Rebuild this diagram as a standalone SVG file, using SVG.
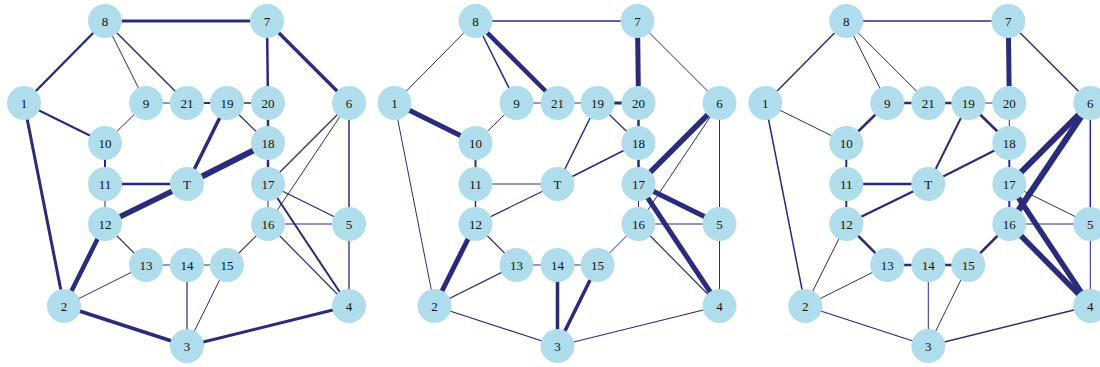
<svg xmlns="http://www.w3.org/2000/svg" width="1100" height="367" viewBox="0 0 1100 367">
<style>
.e line{stroke:#2b2b7b;stroke-linecap:butt}
.n circle{fill:#afddec}
.n text{font-family:"Liberation Serif","Times New Roman",serif;font-size:13px;fill:#111;text-anchor:middle}
</style>
<rect width="1100" height="367" fill="#fff"/>
<!-- Panel 1 -->
<g id="panel1">
<g id="p1-connectors" class="e">
<line x1="105" y1="21" x2="267" y2="21" stroke-width="2.8"/>
<line x1="105" y1="21" x2="24" y2="103" stroke-width="2.4"/>
<line x1="105" y1="21" x2="146" y2="103" stroke-width="1"/>
<line x1="105" y1="21" x2="187" y2="103" stroke-width="1.5"/>
<line x1="267" y1="21" x2="268" y2="103" stroke-width="2.5"/>
<line x1="267" y1="21" x2="349" y2="103" stroke-width="3.3"/>
<line x1="24" y1="103" x2="105" y2="143" stroke-width="2"/>
<line x1="24" y1="103" x2="64" y2="306" stroke-width="3"/>
<line x1="146" y1="103" x2="187" y2="103" stroke-width="1"/>
<line x1="146" y1="103" x2="105" y2="143" stroke-width="1"/>
<line x1="187" y1="103" x2="227" y2="103" stroke-width="2"/>
<line x1="227" y1="103" x2="268" y2="103" stroke-width="1.5"/>
<line x1="227" y1="103" x2="187" y2="184" stroke-width="3.5"/>
<line x1="227" y1="103" x2="268" y2="143" stroke-width="1.2"/>
<line x1="268" y1="103" x2="268" y2="143" stroke-width="2.5"/>
<line x1="105" y1="143" x2="105" y2="184" stroke-width="2"/>
<line x1="105" y1="184" x2="187" y2="184" stroke-width="2.5"/>
<line x1="105" y1="184" x2="105" y2="224" stroke-width="1"/>
<line x1="187" y1="184" x2="268" y2="143" stroke-width="6"/>
<line x1="187" y1="184" x2="105" y2="224" stroke-width="5.5"/>
<line x1="268" y1="143" x2="268" y2="184" stroke-width="2.5"/>
<line x1="349" y1="103" x2="268" y2="184" stroke-width="1.2"/>
<line x1="349" y1="103" x2="268" y2="224" stroke-width="1"/>
<line x1="349" y1="103" x2="349" y2="224" stroke-width="1.5"/>
<line x1="268" y1="184" x2="268" y2="224" stroke-width="1"/>
<line x1="268" y1="184" x2="349" y2="224" stroke-width="1.3"/>
<line x1="268" y1="184" x2="349" y2="306" stroke-width="2"/>
<line x1="268" y1="224" x2="349" y2="224" stroke-width="1"/>
<line x1="268" y1="224" x2="349" y2="306" stroke-width="1.2"/>
<line x1="268" y1="224" x2="227" y2="265" stroke-width="1.2"/>
<line x1="349" y1="224" x2="349" y2="306" stroke-width="1.3"/>
<line x1="105" y1="224" x2="146" y2="265" stroke-width="1.2"/>
<line x1="105" y1="224" x2="64" y2="306" stroke-width="4.5"/>
<line x1="146" y1="265" x2="187" y2="265" stroke-width="1"/>
<line x1="146" y1="265" x2="64" y2="306" stroke-width="1"/>
<line x1="187" y1="265" x2="227" y2="265" stroke-width="1.2"/>
<line x1="187" y1="265" x2="187" y2="346" stroke-width="1.2"/>
<line x1="227" y1="265" x2="187" y2="346" stroke-width="1"/>
<line x1="64" y1="306" x2="187" y2="346" stroke-width="3.5"/>
<line x1="187" y1="346" x2="349" y2="306" stroke-width="3"/>
</g>
<g id="p1-n1" class="n"><circle cx="24" cy="103" r="17"/><text x="24" y="107.5">1</text></g>
<g id="p1-n2" class="n"><circle cx="64" cy="306" r="17"/><text x="64" y="310.5">2</text></g>
<g id="p1-n3" class="n"><circle cx="187" cy="346" r="17"/><text x="187" y="350.5">3</text></g>
<g id="p1-n4" class="n"><circle cx="349" cy="306" r="17"/><text x="349" y="310.5">4</text></g>
<g id="p1-n5" class="n"><circle cx="349" cy="224" r="17"/><text x="349" y="228.5">5</text></g>
<g id="p1-n6" class="n"><circle cx="349" cy="103" r="17"/><text x="349" y="107.5">6</text></g>
<g id="p1-n7" class="n"><circle cx="267" cy="21" r="17"/><text x="267" y="25.5">7</text></g>
<g id="p1-n8" class="n"><circle cx="105" cy="21" r="17"/><text x="105" y="25.5">8</text></g>
<g id="p1-n9" class="n"><circle cx="146" cy="103" r="17"/><text x="146" y="107.5">9</text></g>
<g id="p1-n10" class="n"><circle cx="105" cy="143" r="17"/><text x="105" y="147.5">10</text></g>
<g id="p1-n11" class="n"><circle cx="105" cy="184" r="17"/><text x="105" y="188.5">11</text></g>
<g id="p1-n12" class="n"><circle cx="105" cy="224" r="17"/><text x="105" y="228.5">12</text></g>
<g id="p1-n13" class="n"><circle cx="146" cy="265" r="17"/><text x="146" y="269.5">13</text></g>
<g id="p1-n14" class="n"><circle cx="187" cy="265" r="17"/><text x="187" y="269.5">14</text></g>
<g id="p1-n15" class="n"><circle cx="227" cy="265" r="17"/><text x="227" y="269.5">15</text></g>
<g id="p1-n16" class="n"><circle cx="268" cy="224" r="17"/><text x="268" y="228.5">16</text></g>
<g id="p1-n17" class="n"><circle cx="268" cy="184" r="17"/><text x="268" y="188.5">17</text></g>
<g id="p1-n18" class="n"><circle cx="268" cy="143" r="17"/><text x="268" y="147.5">18</text></g>
<g id="p1-n19" class="n"><circle cx="227" cy="103" r="17"/><text x="227" y="107.5">19</text></g>
<g id="p1-n20" class="n"><circle cx="268" cy="103" r="17"/><text x="268" y="107.5">20</text></g>
<g id="p1-n21" class="n"><circle cx="187" cy="103" r="17"/><text x="187" y="107.5">21</text></g>
<g id="p1-nT" class="n"><circle cx="187" cy="184" r="17"/><text x="187" y="188.5">T</text></g>
</g>
<!-- Panel 2 -->
<g id="panel2" transform="translate(370.5,0)">
<g id="p2-connectors" class="e">
<line x1="105" y1="21" x2="267" y2="21" stroke-width="1.3"/>
<line x1="105" y1="21" x2="24" y2="103" stroke-width="1"/>
<line x1="105" y1="21" x2="146" y2="103" stroke-width="1.5"/>
<line x1="105" y1="21" x2="187" y2="103" stroke-width="4.5"/>
<line x1="267" y1="21" x2="268" y2="103" stroke-width="5"/>
<line x1="267" y1="21" x2="349" y2="103" stroke-width="1"/>
<line x1="24" y1="103" x2="105" y2="143" stroke-width="5"/>
<line x1="24" y1="103" x2="64" y2="306" stroke-width="1"/>
<line x1="146" y1="103" x2="187" y2="103" stroke-width="1"/>
<line x1="146" y1="103" x2="105" y2="143" stroke-width="1"/>
<line x1="187" y1="103" x2="227" y2="103" stroke-width="1"/>
<line x1="227" y1="103" x2="268" y2="103" stroke-width="3"/>
<line x1="227" y1="103" x2="187" y2="184" stroke-width="1.5"/>
<line x1="227" y1="103" x2="268" y2="143" stroke-width="1.2"/>
<line x1="268" y1="103" x2="268" y2="143" stroke-width="2.5"/>
<line x1="105" y1="143" x2="105" y2="184" stroke-width="2"/>
<line x1="105" y1="184" x2="187" y2="184" stroke-width="1"/>
<line x1="105" y1="184" x2="105" y2="224" stroke-width="1.5"/>
<line x1="187" y1="184" x2="268" y2="143" stroke-width="1.5"/>
<line x1="187" y1="184" x2="105" y2="224" stroke-width="1.3"/>
<line x1="268" y1="143" x2="268" y2="184" stroke-width="2.5"/>
<line x1="349" y1="103" x2="268" y2="184" stroke-width="5.5"/>
<line x1="349" y1="103" x2="268" y2="224" stroke-width="1"/>
<line x1="349" y1="103" x2="349" y2="224" stroke-width="1"/>
<line x1="268" y1="184" x2="268" y2="224" stroke-width="1"/>
<line x1="268" y1="184" x2="349" y2="224" stroke-width="5"/>
<line x1="268" y1="184" x2="349" y2="306" stroke-width="5"/>
<line x1="268" y1="224" x2="349" y2="224" stroke-width="1"/>
<line x1="268" y1="224" x2="349" y2="306" stroke-width="1.2"/>
<line x1="268" y1="224" x2="227" y2="265" stroke-width="1"/>
<line x1="349" y1="224" x2="349" y2="306" stroke-width="1"/>
<line x1="105" y1="224" x2="146" y2="265" stroke-width="1.2"/>
<line x1="105" y1="224" x2="64" y2="306" stroke-width="5"/>
<line x1="146" y1="265" x2="187" y2="265" stroke-width="1"/>
<line x1="146" y1="265" x2="64" y2="306" stroke-width="1.3"/>
<line x1="187" y1="265" x2="227" y2="265" stroke-width="1.2"/>
<line x1="187" y1="265" x2="187" y2="346" stroke-width="3.5"/>
<line x1="227" y1="265" x2="187" y2="346" stroke-width="3.5"/>
<line x1="64" y1="306" x2="187" y2="346" stroke-width="1.2"/>
<line x1="187" y1="346" x2="349" y2="306" stroke-width="1.2"/>
</g>
<g id="p2-n1" class="n"><circle cx="24" cy="103" r="17"/><text x="24" y="107.5">1</text></g>
<g id="p2-n2" class="n"><circle cx="64" cy="306" r="17"/><text x="64" y="310.5">2</text></g>
<g id="p2-n3" class="n"><circle cx="187" cy="346" r="17"/><text x="187" y="350.5">3</text></g>
<g id="p2-n4" class="n"><circle cx="349" cy="306" r="17"/><text x="349" y="310.5">4</text></g>
<g id="p2-n5" class="n"><circle cx="349" cy="224" r="17"/><text x="349" y="228.5">5</text></g>
<g id="p2-n6" class="n"><circle cx="349" cy="103" r="17"/><text x="349" y="107.5">6</text></g>
<g id="p2-n7" class="n"><circle cx="267" cy="21" r="17"/><text x="267" y="25.5">7</text></g>
<g id="p2-n8" class="n"><circle cx="105" cy="21" r="17"/><text x="105" y="25.5">8</text></g>
<g id="p2-n9" class="n"><circle cx="146" cy="103" r="17"/><text x="146" y="107.5">9</text></g>
<g id="p2-n10" class="n"><circle cx="105" cy="143" r="17"/><text x="105" y="147.5">10</text></g>
<g id="p2-n11" class="n"><circle cx="105" cy="184" r="17"/><text x="105" y="188.5">11</text></g>
<g id="p2-n12" class="n"><circle cx="105" cy="224" r="17"/><text x="105" y="228.5">12</text></g>
<g id="p2-n13" class="n"><circle cx="146" cy="265" r="17"/><text x="146" y="269.5">13</text></g>
<g id="p2-n14" class="n"><circle cx="187" cy="265" r="17"/><text x="187" y="269.5">14</text></g>
<g id="p2-n15" class="n"><circle cx="227" cy="265" r="17"/><text x="227" y="269.5">15</text></g>
<g id="p2-n16" class="n"><circle cx="268" cy="224" r="17"/><text x="268" y="228.5">16</text></g>
<g id="p2-n17" class="n"><circle cx="268" cy="184" r="17"/><text x="268" y="188.5">17</text></g>
<g id="p2-n18" class="n"><circle cx="268" cy="143" r="17"/><text x="268" y="147.5">18</text></g>
<g id="p2-n19" class="n"><circle cx="227" cy="103" r="17"/><text x="227" y="107.5">19</text></g>
<g id="p2-n20" class="n"><circle cx="268" cy="103" r="17"/><text x="268" y="107.5">20</text></g>
<g id="p2-n21" class="n"><circle cx="187" cy="103" r="17"/><text x="187" y="107.5">21</text></g>
<g id="p2-nT" class="n"><circle cx="187" cy="184" r="17"/><text x="187" y="188.5">T</text></g>
</g>
<!-- Panel 3 -->
<g id="panel3" transform="translate(741.3,0)">
<g id="p3-connectors" class="e">
<line x1="105" y1="21" x2="267" y2="21" stroke-width="1.5"/>
<line x1="105" y1="21" x2="24" y2="103" stroke-width="1.5"/>
<line x1="105" y1="21" x2="146" y2="103" stroke-width="1"/>
<line x1="105" y1="21" x2="187" y2="103" stroke-width="1"/>
<line x1="267" y1="21" x2="268" y2="103" stroke-width="5"/>
<line x1="267" y1="21" x2="349" y2="103" stroke-width="1.5"/>
<line x1="24" y1="103" x2="105" y2="143" stroke-width="1"/>
<line x1="24" y1="103" x2="64" y2="306" stroke-width="1.5"/>
<line x1="146" y1="103" x2="187" y2="103" stroke-width="2.5"/>
<line x1="146" y1="103" x2="105" y2="143" stroke-width="2.5"/>
<line x1="187" y1="103" x2="227" y2="103" stroke-width="2.5"/>
<line x1="227" y1="103" x2="268" y2="103" stroke-width="1"/>
<line x1="227" y1="103" x2="187" y2="184" stroke-width="2"/>
<line x1="227" y1="103" x2="268" y2="143" stroke-width="2.5"/>
<line x1="268" y1="103" x2="268" y2="143" stroke-width="1"/>
<line x1="105" y1="143" x2="105" y2="184" stroke-width="2"/>
<line x1="105" y1="184" x2="187" y2="184" stroke-width="2.5"/>
<line x1="105" y1="184" x2="105" y2="224" stroke-width="2"/>
<line x1="187" y1="184" x2="268" y2="143" stroke-width="2"/>
<line x1="187" y1="184" x2="105" y2="224" stroke-width="2.5"/>
<line x1="268" y1="143" x2="268" y2="184" stroke-width="2"/>
<line x1="349" y1="103" x2="268" y2="184" stroke-width="6"/>
<line x1="349" y1="103" x2="268" y2="224" stroke-width="6"/>
<line x1="349" y1="103" x2="349" y2="224" stroke-width="1.5"/>
<line x1="268" y1="184" x2="268" y2="224" stroke-width="2"/>
<line x1="268" y1="184" x2="349" y2="224" stroke-width="1"/>
<line x1="268" y1="184" x2="349" y2="306" stroke-width="5.5"/>
<line x1="268" y1="224" x2="349" y2="224" stroke-width="1"/>
<line x1="268" y1="224" x2="349" y2="306" stroke-width="5.5"/>
<line x1="268" y1="224" x2="227" y2="265" stroke-width="2.5"/>
<line x1="349" y1="224" x2="349" y2="306" stroke-width="1"/>
<line x1="105" y1="224" x2="146" y2="265" stroke-width="2.5"/>
<line x1="105" y1="224" x2="64" y2="306" stroke-width="1"/>
<line x1="146" y1="265" x2="187" y2="265" stroke-width="2.5"/>
<line x1="146" y1="265" x2="64" y2="306" stroke-width="1"/>
<line x1="187" y1="265" x2="227" y2="265" stroke-width="2.5"/>
<line x1="187" y1="265" x2="187" y2="346" stroke-width="1"/>
<line x1="227" y1="265" x2="187" y2="346" stroke-width="1"/>
<line x1="64" y1="306" x2="187" y2="346" stroke-width="1.2"/>
<line x1="187" y1="346" x2="349" y2="306" stroke-width="1.5"/>
</g>
<g id="p3-n1" class="n"><circle cx="24" cy="103" r="17"/><text x="24" y="107.5">1</text></g>
<g id="p3-n2" class="n"><circle cx="64" cy="306" r="17"/><text x="64" y="310.5">2</text></g>
<g id="p3-n3" class="n"><circle cx="187" cy="346" r="17"/><text x="187" y="350.5">3</text></g>
<g id="p3-n4" class="n"><circle cx="349" cy="306" r="17"/><text x="349" y="310.5">4</text></g>
<g id="p3-n5" class="n"><circle cx="349" cy="224" r="17"/><text x="349" y="228.5">5</text></g>
<g id="p3-n6" class="n"><circle cx="349" cy="103" r="17"/><text x="349" y="107.5">6</text></g>
<g id="p3-n7" class="n"><circle cx="267" cy="21" r="17"/><text x="267" y="25.5">7</text></g>
<g id="p3-n8" class="n"><circle cx="105" cy="21" r="17"/><text x="105" y="25.5">8</text></g>
<g id="p3-n9" class="n"><circle cx="146" cy="103" r="17"/><text x="146" y="107.5">9</text></g>
<g id="p3-n10" class="n"><circle cx="105" cy="143" r="17"/><text x="105" y="147.5">10</text></g>
<g id="p3-n11" class="n"><circle cx="105" cy="184" r="17"/><text x="105" y="188.5">11</text></g>
<g id="p3-n12" class="n"><circle cx="105" cy="224" r="17"/><text x="105" y="228.5">12</text></g>
<g id="p3-n13" class="n"><circle cx="146" cy="265" r="17"/><text x="146" y="269.5">13</text></g>
<g id="p3-n14" class="n"><circle cx="187" cy="265" r="17"/><text x="187" y="269.5">14</text></g>
<g id="p3-n15" class="n"><circle cx="227" cy="265" r="17"/><text x="227" y="269.5">15</text></g>
<g id="p3-n16" class="n"><circle cx="268" cy="224" r="17"/><text x="268" y="228.5">16</text></g>
<g id="p3-n17" class="n"><circle cx="268" cy="184" r="17"/><text x="268" y="188.5">17</text></g>
<g id="p3-n18" class="n"><circle cx="268" cy="143" r="17"/><text x="268" y="147.5">18</text></g>
<g id="p3-n19" class="n"><circle cx="227" cy="103" r="17"/><text x="227" y="107.5">19</text></g>
<g id="p3-n20" class="n"><circle cx="268" cy="103" r="17"/><text x="268" y="107.5">20</text></g>
<g id="p3-n21" class="n"><circle cx="187" cy="103" r="17"/><text x="187" y="107.5">21</text></g>
<g id="p3-nT" class="n"><circle cx="187" cy="184" r="17"/><text x="187" y="188.5">T</text></g>
</g>
</svg>
